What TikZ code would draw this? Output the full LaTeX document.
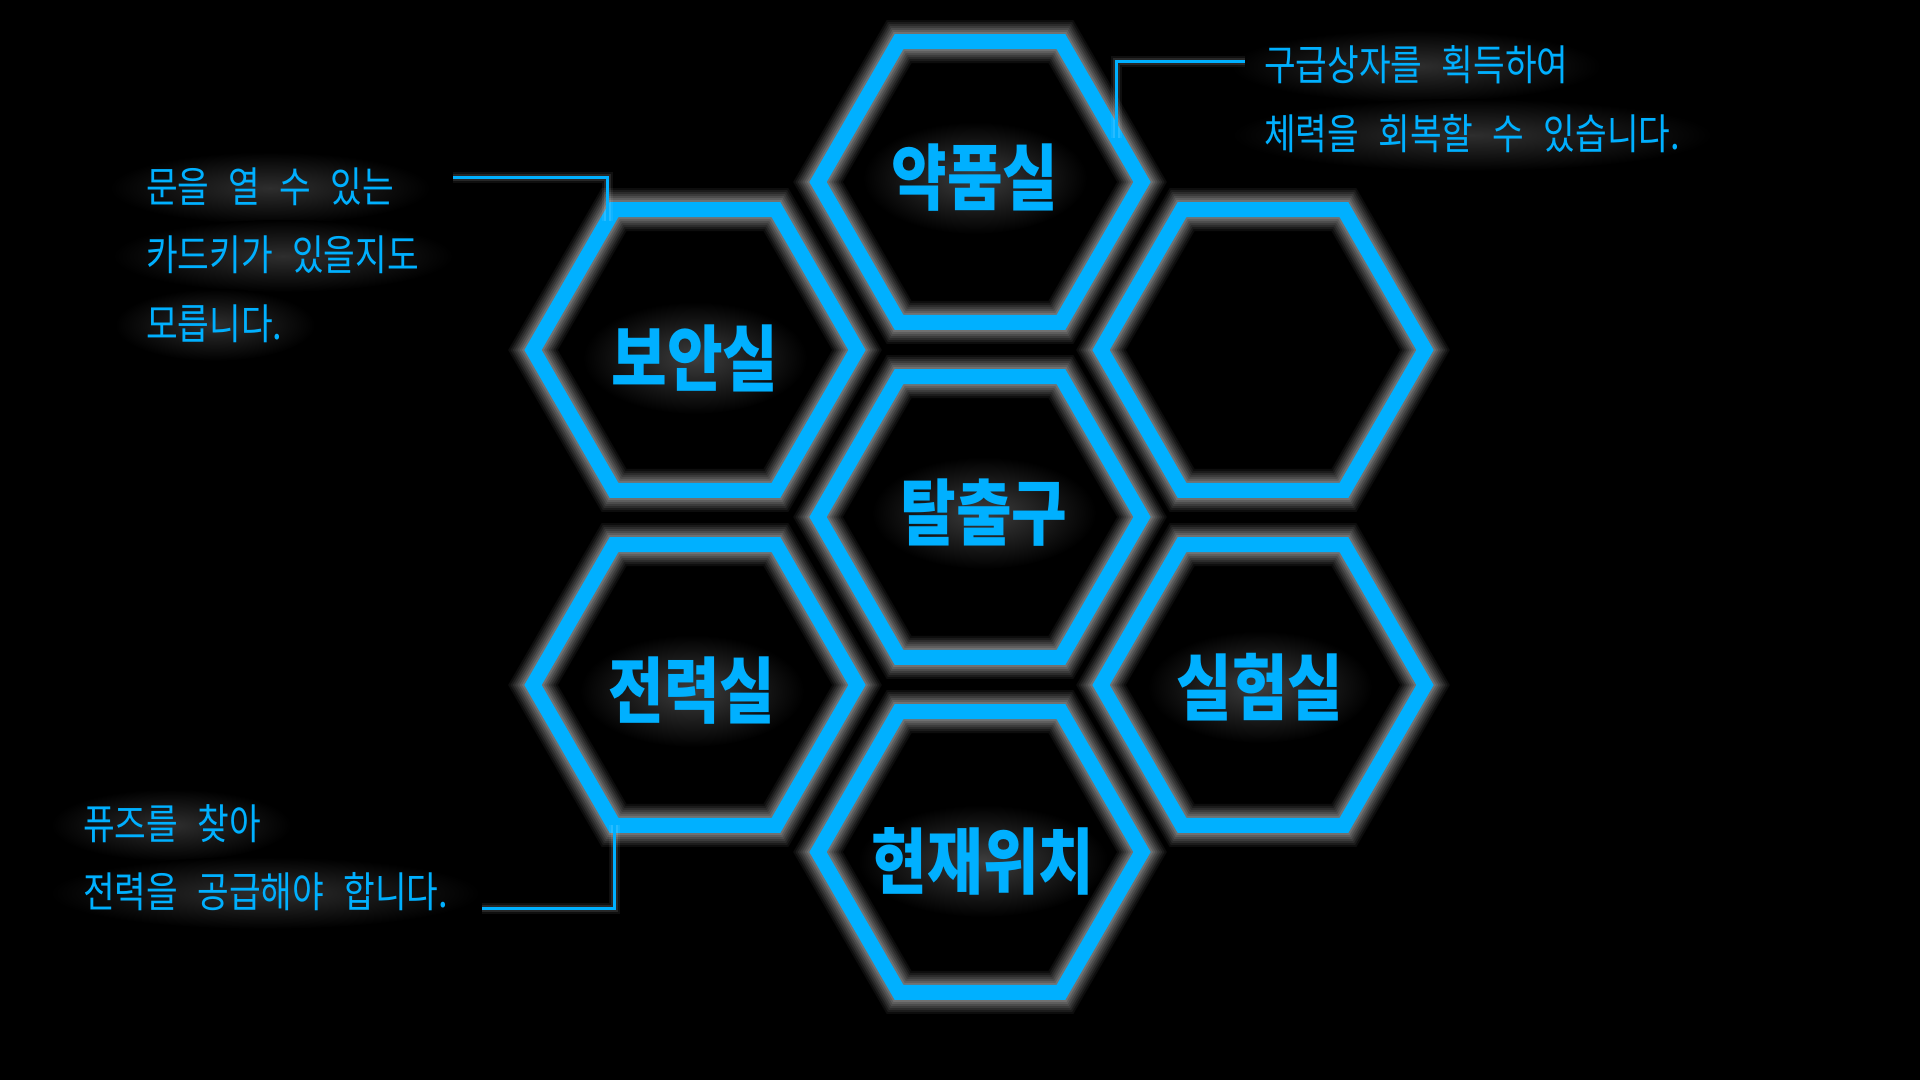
\documentclass[tikz,border=0pt]{standalone}
\usepackage{fontspec}
\newfontfamily\krfont[FakeStretch=0.82,WordSpace=2.5]{Noto Sans CJK KR}
\newfontfamily\krtitle[FakeStretch=0.84]{Noto Sans CJK KR}
\usepackage{tikz}
\usetikzlibrary{
  positioning,
  calc,
  shapes.geometric
}
\definecolor{neon}{RGB}{0,176,255}
\tikzstyle{hexcell}=[regular polygon, regular polygon sides=6, minimum size=324, inner sep=0, outer sep=0,
  draw=neon, line width=15,
  preaction={draw=white, line width=43, opacity=0.05},
  preaction={draw=white, line width=39, opacity=0.06},
  preaction={draw=white, line width=35, opacity=0.07},
  preaction={draw=white, line width=31, opacity=0.08},
  preaction={draw=white, line width=27, opacity=0.09},
  preaction={draw=white, line width=23, opacity=0.1},
  preaction={draw=white, line width=19, opacity=0.12}]
\tikzstyle{link}=[draw=neon, line width=3,
  preaction={draw=white, line width=11, opacity=0.06},
  preaction={draw=white, line width=7, opacity=0.1}]
% 글자 뒤의 옅은 번짐
\tikzstyle{fog}=[inner color=white!24!black, outer color=black]
\tikzstyle{thinfog}=[inner color=white!18!black, outer color=black]
\tikzstyle{roomname}=[font=\krtitle\bfseries\fontsize{72}{80}\selectfont, text=neon, inner sep=0]
\tikzstyle{note}=[font=\krfont\fontsize{42}{50}\selectfont, text=neon, inner sep=0, anchor=base west]

\begin{document}
\begin{tikzpicture}[x=1pt,y=-1pt]
        % 배경
        \fill[black] (0,0) rectangle (1920,1080);
        \useasboundingbox (0,0) rectangle (1920,1080);

        % 번짐 (육각형보다 먼저)
        \foreach \px/\py/\rx in {975/178/112, 695/358/112, 984/513/112, 692/691/112,
            1260/687/112, 983/861/125}
          \shade[fog] (\px,\py) ellipse [x radius=\rx, y radius=56];
        \foreach \px/\py/\rx in {1416/66/185, 1472/135/240, 270/188/160, 283/256/170,
            215/325/100, 171/825/120, 265/893/215}
          \shade[thinfog] (\px,\py) ellipse [x radius=\rx, y radius=36];

        % 육각형 방
        \node[hexcell] (yakpum) at (980,182) {};
        \node[hexcell] (boan) at (695,350) {};
        \node[hexcell] (bingan) at (1263,350) {};
        \node[hexcell] (talchul) at (980,517) {};
        \node[hexcell] (jeonryeok) at (695,685) {};
        \node[hexcell] (silheom) at (1263,685) {};
        \node[hexcell] (hyeonjae) at (980,852) {};

        % 방 이름
        \node[roomname] (yakpum-name) at (975,178) {약품실};
        \node[roomname] (boan-name) at (695,358) {보안실};
        \node[roomname] (talchul-name) at (984,513) {탈출구};
        \node[roomname] (jeonryeok-name) at (692,691) {전력실};
        \node[roomname] (silheom-name) at (1260,687) {실험실};
        \node[roomname] (hyeonjae-name) at (983,861) {현재위치};

        % 설명 문구
        \node[note] (medA) at (1264,80) {구급상자를 획득하여};
        \node[note] (medB) at (1264,149) {체력을 회복할 수 있습니다.};
        \node[note] (cardA) at (146,202) {문을 열 수 있는};
        \node[note] (cardB) at (146,270) {카드키가 있을지도};
        \node[note] (cardC) at (146,339) {모릅니다.};
        \node[note] (fuseA) at (83,839) {퓨즈를 찾아};
        \node[note] (fuseB) at (83,907) {전력을 공급해야 합니다.};

        % 연결선
        \coordinate (yakpum-end) at (1245,61);
        \coordinate (boan-end) at (453,177);
        \coordinate (jeonryeok-end) at (482,908);
        \draw[link] (yakpum.18) |- (yakpum-end);
        \draw[link] (boan.124) |- (boan-end);
        \draw[link] (jeonryeok.240) |- (jeonryeok-end);
\end{tikzpicture}
\end{document}
